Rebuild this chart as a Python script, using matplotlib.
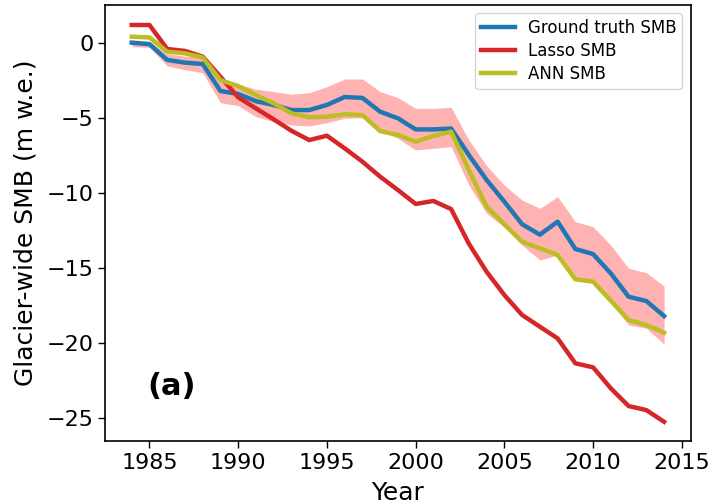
import matplotlib
matplotlib.use("Agg")
import matplotlib.pyplot as plt
import numpy as np

years = np.arange(1984, 2015)

# glacier-wide cumulative SMB (m w.e.)
ground_truth = [0.0, -0.1, -1.15, -1.33, -1.42, -3.22, -3.42, -3.9, -4.15, -4.49, -4.49,
                -4.15, -3.62, -3.68, -4.6, -5.04, -5.78, -5.78, -5.72, -7.49, -9.15,
                -10.6, -12.1, -12.8, -11.93, -13.75, -14.09, -15.38, -16.93, -17.22, -18.22]
lasso = [1.18, 1.18, -0.42, -0.55, -0.93, -2.27, -3.64, -4.38, -5.11, -5.87, -6.49,
         -6.2, -7.04, -7.93, -8.93, -9.82, -10.75, -10.55, -11.09, -13.4, -15.27,
         -16.82, -18.15, -18.93, -19.71, -21.37, -21.64, -23.04, -24.22, -24.49, -25.27]
ann = [0.4, 0.35, -0.6, -0.71, -0.98, -2.49, -2.89, -3.49, -4.04, -4.71, -4.97,
       -4.93, -4.78, -4.82, -5.89, -6.15, -6.6, -6.22, -5.93, -8.49, -10.93,
       -12.1, -13.27, -13.71, -14.15, -15.77, -15.93, -17.2, -18.49, -18.82, -19.33]

# uncertainty band around the ground truth
band_upper = [0.2, 0.1, -0.75, -0.9, -0.95, -2.5, -2.75, -3.1, -3.26, -3.44, -3.33,
              -2.93, -2.42, -2.42, -3.26, -3.66, -4.38, -4.38, -4.31, -6.49, -8.2,
              -9.5, -10.49, -11.04, -10.26, -11.93, -12.27, -13.49, -15.04, -15.33, -16.22]
band_lower = [-0.27, -0.31, -1.55, -1.8, -2.0, -4.0, -4.2, -4.93, -5.26, -5.49, -5.55,
              -5.33, -5.04, -5.0, -5.82, -6.38, -7.15, -7.04, -6.93, -9.49, -11.38,
              -12.3, -13.49, -14.49, -14.15, -15.8, -16.0, -17.3, -18.82, -19.04, -20.09]

fig = plt.figure(figsize=(7.15, 5.04), dpi=100)
ax = fig.add_axes([0.147, 0.125, 0.819, 0.865])

ax.fill_between(years, band_lower, band_upper, color='red', alpha=0.3, linewidth=0)
ax.plot(years, ground_truth, color='tab:blue', linewidth=3.2, label='Ground truth SMB')
ax.plot(years, lasso, color='tab:red', linewidth=3.2, label='Lasso SMB')
ax.plot(years, ann, color='tab:olive', linewidth=3.2, label='ANN SMB')

ax.set_xlim(1982.5, 2015.5)
ax.set_ylim(-26.55, 2.51)
ax.set_xticks([1985, 1990, 1995, 2000, 2005, 2010, 2015])
ax.set_yticks([0, -5, -10, -15, -20, -25])
ax.tick_params(labelsize=16, length=5, width=1)
for sp in ax.spines.values():
    sp.set_linewidth(1.2)

ax.set_xlabel('Year', fontsize=18, labelpad=6)
ax.set_ylabel('Glacier-wide SMB (m w.e.)', fontsize=18, labelpad=6)
ax.text(0.072, 0.124, '(a)', transform=ax.transAxes, fontsize=22,
        fontweight='bold', va='center', ha='left')
ax.legend(loc='upper right', fontsize=12, labelspacing=0.3, borderpad=0.35)

fig.savefig('out.png', dpi=100)
